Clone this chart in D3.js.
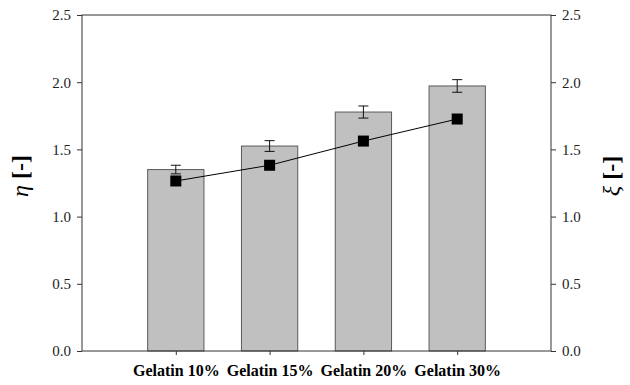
<!DOCTYPE html>
<html>
<head>
<meta charset="utf-8">
<script src="https://cdn.jsdelivr.net/npm/d3@7"></script>
<style>
	body { margin: 0; background: #fff; }
	svg text { font-family: "Liberation Serif", "Times New Roman", serif; }
</style>
</head>
<body>
<svg id="chart" width="630" height="385"></svg>
<script>
// values
const categories = ["Gelatin 10%", "Gelatin 15%", "Gelatin 20%", "Gelatin 30%"];
const etaValues = [1.35, 1.525, 1.778, 1.972];
const etaErrors = [0.032, 0.04, 0.045, 0.047];
const xiValues = [1.265, 1.382, 1.562, 1.726];
const yTicks = [0, 0.5, 1.0, 1.5, 2.0, 2.5];

const svg = d3.select("#chart");
const plotLeft = 82, plotRight = 551, plotTop = 15, plotBottom = 351;
const serif = "'Liberation Serif', 'Times New Roman', serif";

// categories sit at 1..4 on a 0..5 axis
let x = d3.scaleLinear().domain([0, categories.length + 1]).range([plotLeft, plotRight]);
let y = d3.scaleLinear().domain([0, 2.5]).range([plotBottom, plotTop]);
let y2 = d3.scaleLinear().domain([0, 2.5]).range([plotBottom, plotTop]);
let barW = x(0.6) - x(0);

let data = categories.map((c, i) => ({ c: c, pos: i + 1, eta: etaValues[i], err: etaErrors[i], xi: xiValues[i] }));

/* ------------------------ bars ------------------------ */
svg.selectAll(".bar")
	.data(data)
	.enter().append("rect")
	.attr("class", "bar")
	.attr("x", d => x(d.pos) - barW / 2)
	.attr("y", d => y(d.eta))
	.attr("width", barW)
	.attr("height", d => y(0) - y(d.eta))
	.attr("fill", "#c0c0c0")
	.attr("stroke", "#5a5a5a")
	.attr("stroke-width", 1);

// error bars
let eb = svg.selectAll(".err").data(data).enter().append("g").attr("class", "err")
	.attr("stroke", "#111").attr("stroke-width", 1);
eb.append("line")
	.attr("x1", d => x(d.pos)).attr("x2", d => x(d.pos))
	.attr("y1", d => y(d.eta + d.err)).attr("y2", d => y(d.eta - d.err));
eb.append("line")
	.attr("x1", d => x(d.pos) - 5).attr("x2", d => x(d.pos) + 5)
	.attr("y1", d => y(d.eta + d.err)).attr("y2", d => y(d.eta + d.err));
eb.append("line")
	.attr("x1", d => x(d.pos) - 5).attr("x2", d => x(d.pos) + 5)
	.attr("y1", d => y(d.eta - d.err)).attr("y2", d => y(d.eta - d.err));

/* ------------------------ xi line ------------------------ */
svg.append("path")
	.datum(data)
	.attr("fill", "none")
	.attr("stroke", "#000")
	.attr("stroke-width", 1)
	.attr("d", d3.line().x(d => x(d.pos)).y(d => y2(d.xi)));

svg.selectAll(".mk")
	.data(data)
	.enter().append("rect")
	.attr("class", "mk")
	.attr("x", d => x(d.pos) - 5.5)
	.attr("y", d => y2(d.xi) - 5.5)
	.attr("width", 11)
	.attr("height", 11)
	.attr("fill", "#000");

/* ------------------------ axes ------------------------ */
let axL = svg.append("g")
	.attr("transform", "translate(" + plotLeft + ",0)")
	.call(d3.axisLeft(y).tickValues(yTicks).tickFormat(d3.format(".1f")).tickSize(5).tickPadding(6));
let axR = svg.append("g")
	.attr("transform", "translate(" + plotRight + ",0)")
	.call(d3.axisRight(y2).tickValues(yTicks).tickFormat(d3.format(".1f")).tickSize(5).tickPadding(6));
let axB = svg.append("g")
	.attr("transform", "translate(0," + plotBottom + ")")
	.call(d3.axisBottom(x).tickValues(data.map(d => d.pos)).tickFormat(i => categories[i - 1]).tickSize(4).tickPadding(10));

[axL, axR, axB].forEach(a => {
	a.attr("font-family", serif);
	a.select(".domain").remove();
	a.selectAll("line").attr("stroke", "#333");
	a.selectAll("text").attr("fill", "#222");
});
axL.attr("font-size", 15);
axR.attr("font-size", 15);
axB.attr("font-size", 16);
axB.selectAll("text").attr("font-weight", "bold").attr("fill", "#000");

// frame
svg.append("rect")
	.attr("x", plotLeft).attr("y", plotTop)
	.attr("width", plotRight - plotLeft).attr("height", plotBottom - plotTop)
	.attr("fill", "none").attr("stroke", "#333").attr("stroke-width", 1);

/* ------------------------ titles ------------------------ */
function axisTitle(cx, cy, sym){
	let t = svg.append("text")
		.attr("transform", "translate(" + cx + "," + cy + ") rotate(-90)")
		.attr("text-anchor", "middle")
		.attr("font-family", serif)
		.attr("font-size", 24).attr("font-weight", "bold");
	t.append("tspan").attr("font-style", "italic").attr("font-weight", "normal").text(sym);
	t.append("tspan").text(" [-]");
}
axisTitle(28, 176, "η");
axisTitle(619, 176, "ξ");
</script>
</body>
</html>
